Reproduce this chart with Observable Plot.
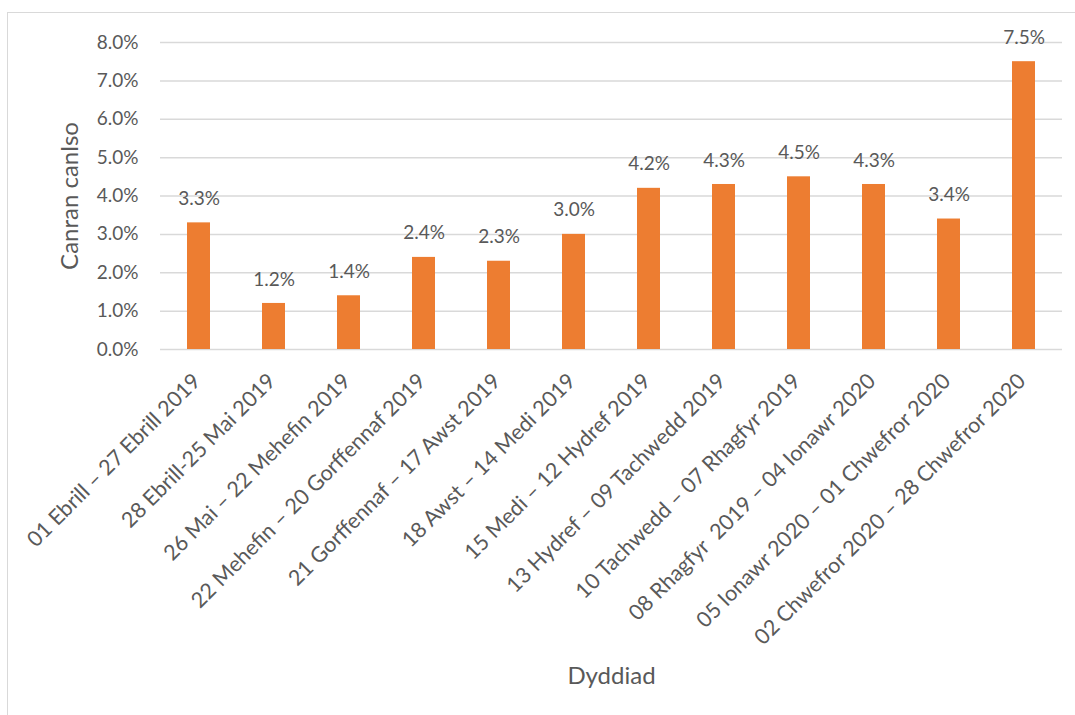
<!DOCTYPE html>
<html>
<head>
<meta charset="utf-8">
<script src="https://cdn.jsdelivr.net/npm/d3@7"></script>
<script src="https://cdn.jsdelivr.net/npm/@observablehq/plot@0.6"></script>
<style>
  html, body { margin: 0; padding: 0; background: #fff; }
  #wrap { position: relative; width: 1075px; height: 715px; overflow: hidden; }
  #border { position: absolute; left: 7px; top: 12px; width: 1200px; height: 800px;
            border-left: 1.5px solid #d9d9d9; border-top: 1.5px solid #d9d9d9; }
  #chart { position: absolute; left: 0; top: 0; }
</style>
</head>
<body>
<div id="wrap"><div id="border"></div><div id="chart"></div></div>
<script>
const periods = [
  "01 Ebrill – 27 Ebrill 2019",
  "28 Ebrill-25 Mai 2019",
  "26 Mai – 22 Mehefin 2019",
  "22 Mehefin – 20 Gorffennaf 2019",
  "21 Gorffennaf – 17 Awst 2019",
  "18 Awst – 14 Medi 2019",
  "15 Medi – 12 Hydref 2019",
  "13 Hydref – 09 Tachwedd 2019",
  "10 Tachwedd – 07 Rhagfyr 2019",
  "08 Rhagfyr  2019 – 04 Ionawr 2020",
  "05 Ionawr 2020 – 01 Chwefror 2020",
  "02 Chwefror 2020 – 28 Chwefror 2020"
];
const rates = [0.033, 0.012, 0.014, 0.024, 0.023, 0.030, 0.042, 0.043, 0.045, 0.043, 0.034, 0.075];
const yTicks = [0, 0.01, 0.02, 0.03, 0.04, 0.05, 0.06, 0.07, 0.08];
const yTitle = "Canran canlso";
const xTitle = "Dyddiad";

const data = periods.map((p, i) => ({period: p, rate: rates[i]}));
const fmt = d3.format(".1%");
const textColor = "#595959";

const chart = Plot.plot({
  width: 1075,
  height: 715,
  marginLeft: 160,
  marginRight: 13,
  marginTop: 42,
  marginBottom: 366,
  style: {fontFamily: "Lato, 'Open Sans', sans-serif", fontSize: "19px", color: textColor, background: "transparent"},
  x: {domain: periods, paddingInner: 0.69, paddingOuter: 0.345, label: null},
  y: {domain: [0, 0.08], label: null},
  marks: [
    Plot.gridY(yTicks, {stroke: "#d9d9d9", strokeOpacity: 1, strokeWidth: 1.5}),
    Plot.barY(data, {x: "period", y: "rate", fill: "#ED7D31"}),
    Plot.text(data, {x: "period", y: "rate", text: d => fmt(d.rate), dy: -24, fill: textColor, fontSize: 19}),
    Plot.axisY(yTicks, {tickFormat: fmt, tickSize: 0, tickPadding: 22, fill: textColor, fontSize: 19, label: null}),
    Plot.axisY([], {tickSize: 0, fill: textColor, fontSize: 24,
      label: yTitle, labelAnchor: "center", labelArrow: "none", labelOffset: 100}),
    Plot.axisX({tickSize: 0, tickRotate: -45, tickPadding: 10, dx: -2, dy: 18, fill: textColor, fontSize: 21.5, label: null}),
    Plot.axisX([], {tickSize: 0, fill: textColor, fontSize: 24,
      label: xTitle, labelAnchor: "center", labelArrow: "none", labelOffset: 334})
  ]
});
document.getElementById("chart").appendChild(chart);
</script>
</body>
</html>
